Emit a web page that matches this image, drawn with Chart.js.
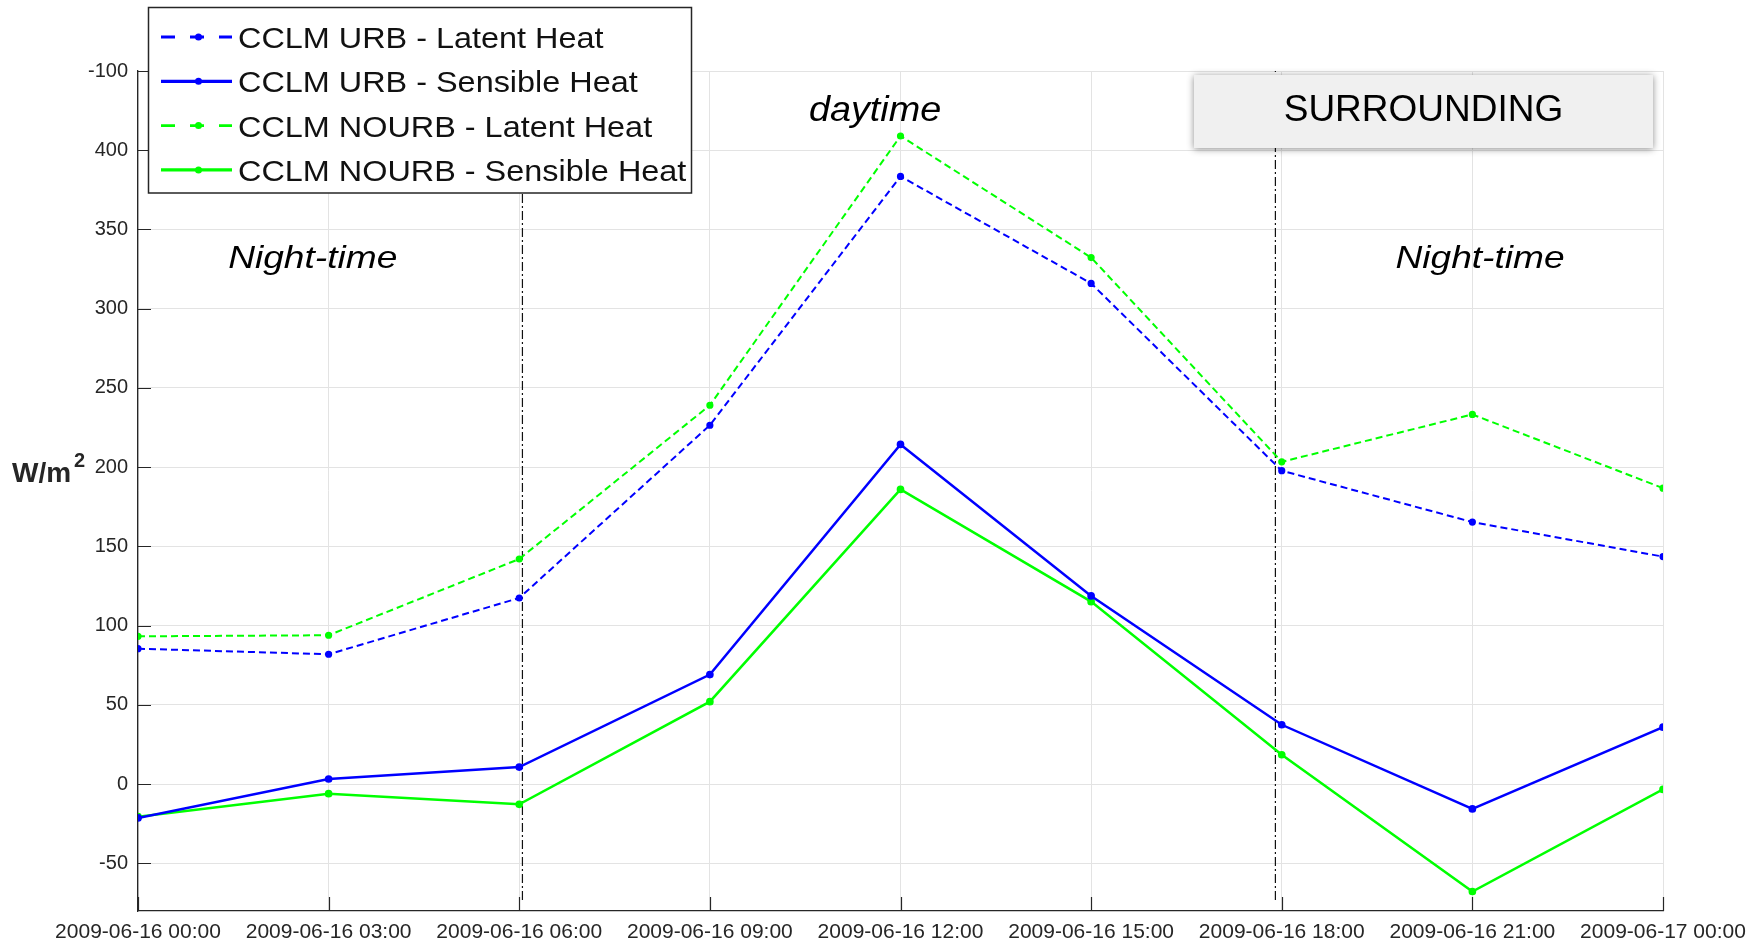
<!DOCTYPE html>
<html>
<head>
<meta charset="utf-8">
<script src="https://cdn.jsdelivr.net/npm/chart.js@4.4.0/dist/chart.umd.min.js"></script>
<style>
  body { margin: 0; background: #ffffff; }
  #wrap { position: relative; width: 1763px; height: 944px; }
</style>
</head>
<body>
<div id="wrap"><canvas id="fluxChart"></canvas></div>
<script>
// hours since 2009-06-16 00:00
var hours = [0, 3, 6, 9, 12, 15, 18, 21, 24];
var xTickLabels = [
    "2009-06-16 00:00", "2009-06-16 03:00", "2009-06-16 06:00",
    "2009-06-16 09:00", "2009-06-16 12:00", "2009-06-16 15:00",
    "2009-06-16 18:00", "2009-06-16 21:00", "2009-06-17 00:00"
];

// W/m2 values
var urbLatent     = [85.5, 82, 117.5, 226.5, 383.5, 316, 197.8, 165.4, 143.6];
var urbSensible   = [-21.3, 3.3, 10.8, 69.2, 214.4, 118.8, 37.5, -15.6, 36];
var nourbLatent   = [93.3, 94, 142.1, 239.1, 409, 332.3, 203.4, 233.3, 186.8];
var nourbSensible = [-20.5, -6, -12.7, 52.1, 186, 115.2, 18.6, -67.7, -3.3];

var seriesNames = [
    "CCLM URB - Latent Heat",
    "CCLM URB - Sensible Heat",
    "CCLM NOURB - Latent Heat",
    "CCLM NOURB - Sensible Heat"
];

// y ticks (the top one is labelled -100 in the original figure)
var yTickValues = [-50, 0, 50, 100, 150, 200, 250, 300, 350, 400, 450];
var yTickLabels = ["-50", "0", "50", "100", "150", "200", "250", "300", "350", "400", "-100"];
var yMin = -80;
var yMax = 450;

// dash-dot separators between night and day
var dividerHours = [6.05, 17.9];
var dividerRange = [-73, 450];

var BLUE = "#0000ff";
var GREEN = "#00ff00";
var FONT = "'Liberation Sans', Arial, Helvetica, sans-serif";

function toPoints(values) {
    return values.map(function(v, i) { return { x: hours[i], y: v }; });
}

function seriesSet(label, values, color, dashed) {
    return {
        label: label,
        data: toPoints(values),
        borderColor: color,
        backgroundColor: color,
        pointBackgroundColor: color,
        pointBorderColor: color,
        pointRadius: 2.6,
        borderWidth: dashed ? 2 : 2.5,
        borderDash: dashed ? [7, 4] : [],
        fill: false,
        tension: 0
    };
}

function dividerSet(h) {
    return {
        label: "divider",
        data: [{ x: h, y: dividerRange[0] }, { x: h, y: dividerRange[1] }],
        borderColor: "#111111",
        borderWidth: 1.2,
        borderDash: [9, 3, 2, 3],
        pointRadius: 0,
        fill: false
    };
}

var datasets = [
    seriesSet(seriesNames[0], urbLatent, BLUE, true),
    seriesSet(seriesNames[1], urbSensible, BLUE, false),
    seriesSet(seriesNames[2], nourbLatent, GREEN, true),
    seriesSet(seriesNames[3], nourbSensible, GREEN, false)
];
dividerHours.forEach(function(h) { datasets.push(dividerSet(h)); });

// text drawn with a small horizontal stretch like the original export
function stretchedText(ctx, text, x, y, font, scaleX, align) {
    ctx.save();
    ctx.font = font;
    ctx.textBaseline = "alphabetic";
    ctx.textAlign = align;
    ctx.translate(x, y);
    ctx.scale(scaleX, 1);
    ctx.fillText(text, 0, 0);
    ctx.restore();
}

var extrasPlugin = {
    id: "extras",
    afterDraw: function(chart) {
        var ctx = chart.ctx;
        var area = chart.chartArea;
        var xs = chart.scales.x;
        var ys = chart.scales.y;

        // inward tick marks (matlab style)
        ctx.save();
        ctx.strokeStyle = "#262626";
        ctx.lineWidth = 1.2;
        ctx.beginPath();
        yTickValues.forEach(function(v) {
            var py = Math.round(ys.getPixelForValue(v)) + 0.5;
            ctx.moveTo(area.left, py);
            ctx.lineTo(area.left + 13, py);
        });
        hours.forEach(function(h) {
            var px = Math.round(xs.getPixelForValue(h)) + 0.5;
            ctx.moveTo(px, area.bottom);
            ctx.lineTo(px, area.bottom - 14);
        });
        ctx.stroke();
        ctx.restore();

        // y axis title W/m2
        ctx.save();
        ctx.fillStyle = "#262626";
        ctx.font = "bold 28px " + FONT;
        ctx.textBaseline = "alphabetic";
        ctx.fillText("W/m", 12, 482);
        var w = ctx.measureText("W/m").width;
        ctx.font = "bold 20px " + FONT;
        ctx.fillText("2", 12 + w + 3, 467);
        ctx.restore();

        // annotations
        ctx.save();
        ctx.fillStyle = "#000000";
        stretchedText(ctx, "Night-time", xs.getPixelForValue(2.75), 268, "italic 32px " + FONT, 1.16, "center");
        stretchedText(ctx, "Night-time", xs.getPixelForValue(21.12), 268, "italic 32px " + FONT, 1.16, "center");
        stretchedText(ctx, "daytime", xs.getPixelForValue(11.6), 121, "italic 35px " + FONT, 1.08, "center");
        ctx.restore();

        // SURROUNDING box
        ctx.save();
        ctx.shadowColor = "rgba(0,0,0,0.45)";
        ctx.shadowBlur = 7;
        ctx.shadowOffsetX = 0;
        ctx.shadowOffsetY = 1;
        ctx.fillStyle = "#f0f0f0";
        ctx.fillRect(1194, 75, 459, 73);
        ctx.restore();
        ctx.save();
        ctx.fillStyle = "#000000";
        stretchedText(ctx, "SURROUNDING", 1423.5, 121, "37px " + FONT, 1.0, "center");
        ctx.restore();

        // legend box
        ctx.save();
        ctx.fillStyle = "#ffffff";
        ctx.fillRect(148.5, 7.5, 543, 185.5);
        ctx.strokeStyle = "#262626";
        ctx.lineWidth = 1.5;
        ctx.strokeRect(148.5, 7.5, 543, 185.5);
        for (var i = 0; i < 4; i++) {
            var ds = chart.data.datasets[i];
            var cy = 37 + i * 44.3;
            ctx.save();
            ctx.strokeStyle = ds.borderColor;
            ctx.lineWidth = ds.borderWidth + 0.8;
            ctx.setLineDash(ds.borderDash.length ? [14, 15] : []);
            ctx.beginPath();
            ctx.moveTo(161, cy);
            ctx.lineTo(232, cy);
            ctx.stroke();
            ctx.setLineDash([]);
            ctx.fillStyle = ds.borderColor;
            ctx.beginPath();
            ctx.arc(198.5, cy, 3.5, 0, Math.PI * 2);
            ctx.fill();
            ctx.restore();
            ctx.fillStyle = "#111111";
            stretchedText(ctx, ds.label, 238, cy + 11, "30px " + FONT, 1.08, "left");
        }
        ctx.restore();
    }
};

var ctx = document.getElementById("fluxChart").getContext("2d");
var fluxChart = new Chart(ctx, {
    type: "line",
    data: { datasets: datasets },
    options: {
        responsive: true,
        maintainAspectRatio: false,
        animation: false,
        layout: { padding: { top: 71, right: 100, left: 0, bottom: 0 } },
        plugins: {
            legend: { display: false },
            tooltip: { enabled: false }
        },
        scales: {
            x: {
                type: "linear",
                min: 0,
                max: 24,
                afterBuildTicks: function(scale) {
                    scale.ticks = hours.map(function(h) { return { value: h }; });
                },
                afterFit: function(scale) { scale.height = 33; },
                ticks: {
                    autoSkip: false,
                    maxRotation: 0,
                    padding: 9,
                    color: "#262626",
                    font: { family: FONT, size: 21 },
                    callback: function(value) {
                        return xTickLabels[hours.indexOf(value)];
                    }
                },
                grid: { color: "#e3e3e3", lineWidth: 1, drawTicks: false },
                border: { display: true, color: "#262626", width: 1.3 }
            },
            y: {
                min: yMin,
                max: yMax,
                afterBuildTicks: function(scale) {
                    scale.ticks = yTickValues.map(function(v) { return { value: v }; });
                },
                afterFit: function(scale) { scale.width = 138; },
                ticks: {
                    padding: 10,
                    color: "#262626",
                    font: { family: FONT, size: 20 },
                    callback: function(value) {
                        return yTickLabels[yTickValues.indexOf(value)];
                    }
                },
                grid: { color: "#e3e3e3", lineWidth: 1, drawTicks: false },
                border: { display: true, color: "#262626", width: 1.3 }
            }
        }
    },
    plugins: [extrasPlugin]
});
</script>
</body>
</html>
